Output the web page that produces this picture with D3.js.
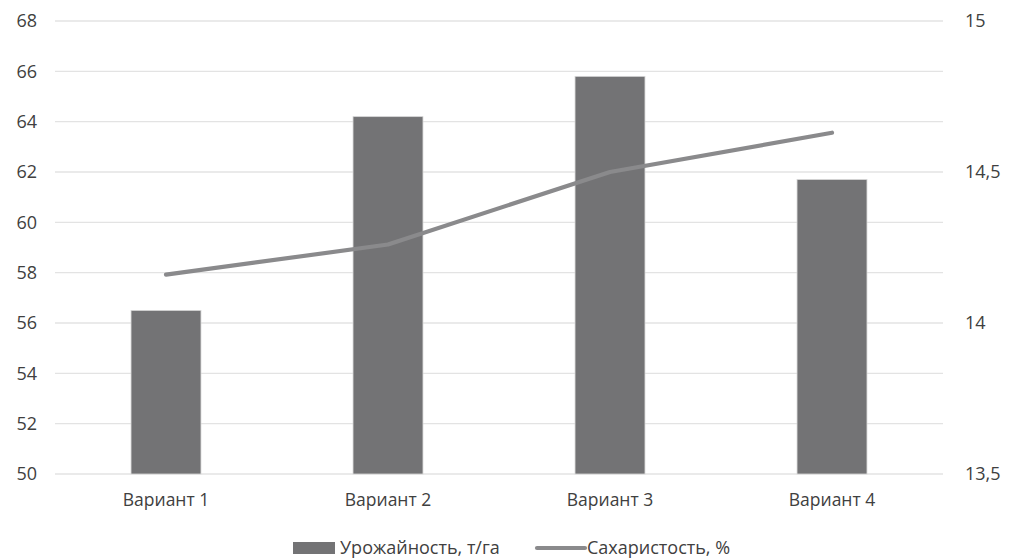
<!DOCTYPE html>
<html>
<head>
<meta charset="utf-8">
<script src="https://cdn.jsdelivr.net/npm/d3@7"></script>
<style>
  body { margin: 0; background: #fff; }
  text { font-family: "Open Sans", "Noto Sans", sans-serif; fill: #404040; }
</style>
</head>
<body>
<div id="chart"></div>
<script>
const categories = ["Вариант 1", "Вариант 2", "Вариант 3", "Вариант 4"];
const yieldValues = [56.5, 64.2, 65.8, 61.7];
const sugarValues = [14.16, 14.26, 14.5, 14.63];
const leftTicks = [50, 52, 54, 56, 58, 60, 62, 64, 66, 68];
const rightTicks = [13.5, 14, 14.5, 15];
const seriesNames = ["Урожайность, т/га", "Сахаристость, %"];

const W = 1013, H = 558;
const margin = { top: 21, right: 70, bottom: 84, left: 55 };
const width = W - margin.left - margin.right;
const height = H - margin.top - margin.bottom;

const svg = d3.select("#chart").append("svg")
  .attr("width", W).attr("height", H);
const g = svg.append("g").attr("transform", `translate(${margin.left},${margin.top})`);

const x = d3.scaleBand().domain(categories).range([0, width]).paddingInner(0.685).paddingOuter(0.3425);
const yL = d3.scaleLinear().domain([50, 68]).range([height, 0]);
const yR = d3.scaleLinear().domain([13.5, 15]).range([height, 0]);

// gridlines
g.selectAll("line.grid").data(leftTicks).enter().append("line")
  .attr("class", "grid")
  .attr("x1", 0).attr("x2", width)
  .attr("y1", d => yL(d)).attr("y2", d => yL(d))
  .attr("stroke", "#e3e3e3").attr("stroke-width", 1.3);

// left axis labels
g.selectAll("text.yl").data(leftTicks).enter().append("text")
  .attr("class", "yl")
  .attr("x", -18).attr("y", d => yL(d)).attr("dy", "0.35em")
  .attr("text-anchor", "end").style("font-size", "18px")
  .text(d => d);

// right axis labels
const fmt = d => String(d).replace(".", ",");
g.selectAll("text.yr").data(rightTicks).enter().append("text")
  .attr("class", "yr")
  .attr("x", width + 22).attr("y", d => yR(d)).attr("dy", "0.35em")
  .attr("text-anchor", "start").style("font-size", "18px")
  .text(fmt);

// category labels
g.selectAll("text.cat").data(categories).enter().append("text")
  .attr("class", "cat")
  .attr("x", d => x(d) + x.bandwidth() / 2).attr("y", height + 32)
  .attr("text-anchor", "middle").style("font-size", "17.5px")
  .text(d => d);

// bars
g.selectAll("rect.bar").data(yieldValues).enter().append("rect")
  .attr("class", "bar")
  .attr("x", (d, i) => x(categories[i]))
  .attr("width", x.bandwidth())
  .attr("y", d => yL(d))
  .attr("height", d => height - yL(d))
  .attr("fill", "#737375")
  .attr("stroke", "#d6d6d6").attr("stroke-width", 0.8);

// line
const line = d3.line()
  .x((d, i) => x(categories[i]) + x.bandwidth() / 2)
  .y(d => yR(d));
g.append("path").datum(sugarValues)
  .attr("fill", "none")
  .attr("stroke", "#8a8a8c").attr("stroke-width", 4.2)
  .attr("stroke-linejoin", "round").attr("stroke-linecap", "round")
  .attr("d", line);

// legend
const leg = svg.append("g").attr("transform", `translate(0, 548)`);
leg.append("rect").attr("x", 293).attr("y", -6).attr("width", 42).attr("height", 12).attr("fill", "#737375");
leg.append("text").attr("x", 340).attr("y", 0).attr("dy", "0.35em").style("font-size", "18px").text(seriesNames[0]);
leg.append("line").attr("x1", 537).attr("x2", 585).attr("y1", 0).attr("y2", 0)
  .attr("stroke", "#8a8a8c").attr("stroke-width", 4.2).attr("stroke-linecap", "round");
leg.append("text").attr("x", 587).attr("y", 0).attr("dy", "0.35em").style("font-size", "18px").text(seriesNames[1]);
</script>
</body>
</html>
